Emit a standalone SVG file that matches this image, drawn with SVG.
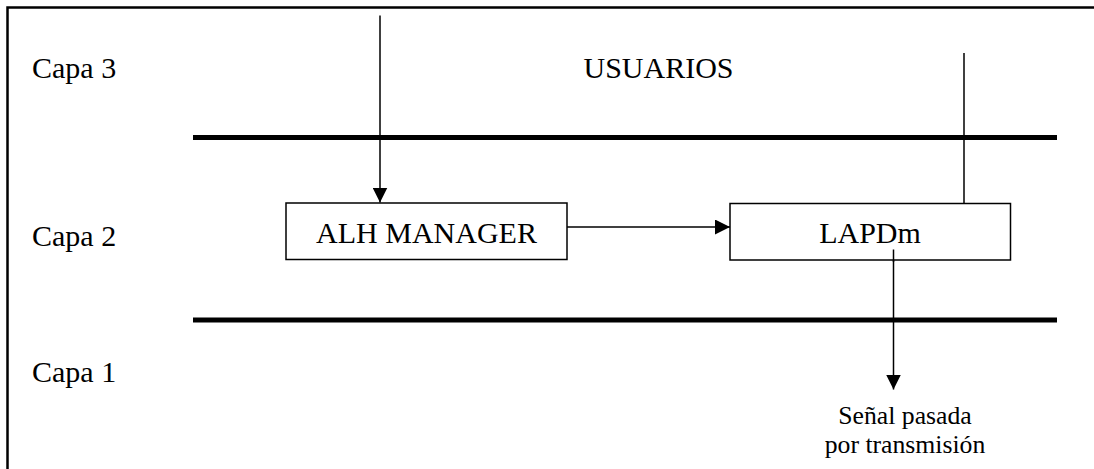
<svg xmlns="http://www.w3.org/2000/svg" width="1094" height="469" viewBox="0 0 1094 469">
<style>
.lbl { font-size: 30px; }
.small { font-size: 25.7px; }
.box { fill: #fff; stroke: #000; stroke-width: 1.5; }
.bar { stroke: #000; stroke-width: 5; }
.conn { stroke: #000; stroke-width: 1.5; fill: none; }
</style>
<defs>
<marker id="arr" markerUnits="userSpaceOnUse" markerWidth="15" markerHeight="15" viewBox="0 0 15 15" refX="15" refY="7.5" orient="auto">
<path d="M0,0 L15,7.5 L0,15 Z" fill="#000"/>
</marker>
</defs>
<rect width="1094" height="469" fill="#fff"/>
<g id="frame">
<path d="M7.5,469 V7.5 H1094" fill="none" stroke="#000" stroke-width="2.5"/>
</g>
<g id="layers" font-family="Liberation Serif, DejaVu Serif, serif" fill="#000">
<line class="bar" x1="193" y1="137.5" x2="1057" y2="137.5"/>
<line class="bar" x1="193" y1="320" x2="1057" y2="320"/>
<text class="lbl" x="32" y="78">Capa 3</text>
<text class="lbl" x="32" y="245.5">Capa 2</text>
<text class="lbl" x="32" y="381.5">Capa 1</text>
</g>
<g id="usuarios" font-family="Liberation Serif, DejaVu Serif, serif" fill="#000">
<text class="lbl" x="658.5" y="77.5" text-anchor="middle">USUARIOS</text>
</g>
<g id="connectors">
<line class="conn" x1="380" y1="15.5" x2="380" y2="202.5" marker-end="url(#arr)"/>
<line class="conn" x1="567" y1="227" x2="730" y2="227" marker-end="url(#arr)"/>
<line class="conn" x1="964" y1="53" x2="964" y2="203.5"/>
<line class="conn" x1="893.5" y1="249.5" x2="893.5" y2="389.5" marker-end="url(#arr)"/>
</g>
<g id="alh" font-family="Liberation Serif, DejaVu Serif, serif" fill="#000">
<rect class="box" x="286" y="203" width="281" height="56.5"/>
<text class="lbl" x="426.5" y="242.5" text-anchor="middle">ALH MANAGER</text>
</g>
<g id="lapdm" font-family="Liberation Serif, DejaVu Serif, serif" fill="#000">
<rect class="box" x="730" y="203.5" width="280.5" height="56.5"/>
<text class="lbl" x="870" y="242.5" text-anchor="middle">LAPDm</text>
</g>
<line class="conn" x1="893.5" y1="249.5" x2="893.5" y2="262"/>
<g id="senal" font-family="Liberation Serif, DejaVu Serif, serif" fill="#000">
<text class="small" x="905" y="423.5" text-anchor="middle">Señal pasada</text>
<text class="small" x="905" y="453" text-anchor="middle">por transmisión</text>
</g>
</svg>
